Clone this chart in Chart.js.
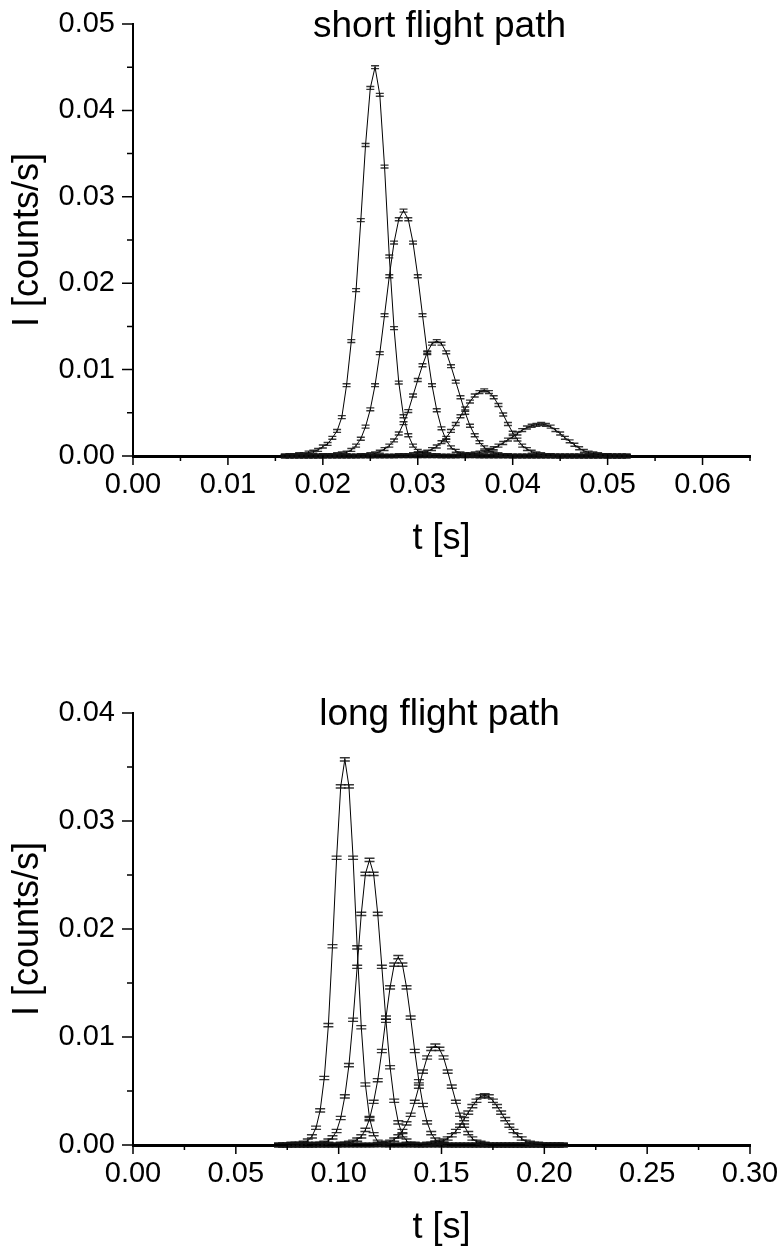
<!DOCTYPE html>
<html>
<head>
<meta charset="utf-8">
<script src="https://cdn.jsdelivr.net/npm/chart.js@4/dist/chart.umd.min.js"></script>
<style>
  html, body { margin: 0; padding: 0; background: #fff; }
  canvas { position: absolute; left: 0; }
</style>
</head>
<body>
<canvas id="shortChart" width="781" height="600" style="top:0"></canvas>
<canvas id="longChart" width="781" height="648" style="top:600px"></canvas>
<script>
// short flight path: time grid [s] and five peaks I [counts/s]
const tShort = [
  0.0160, 0.0165, 0.0170, 0.0175, 0.0180, 0.0185, 0.0190, 0.0195,
  0.0200, 0.0205, 0.0210, 0.0215, 0.0220, 0.0225, 0.0230, 0.0235,
  0.0240, 0.0245, 0.0250, 0.0255, 0.0260, 0.0265, 0.0270, 0.0275,
  0.0280, 0.0285, 0.0290, 0.0295, 0.0300, 0.0305, 0.0310, 0.0315,
  0.0320, 0.0325, 0.0330, 0.0335, 0.0340, 0.0345, 0.0350, 0.0355,
  0.0360, 0.0365, 0.0370, 0.0375, 0.0380, 0.0385, 0.0390, 0.0395,
  0.0400, 0.0405, 0.0410, 0.0415, 0.0420, 0.0425, 0.0430, 0.0435,
  0.0440, 0.0445, 0.0450, 0.0455, 0.0460, 0.0465, 0.0470, 0.0475,
  0.0480, 0.0485, 0.0490, 0.0495, 0.0500, 0.0505, 0.0510, 0.0515,
  0.0520
];
const short1 = [
  0, 0.0001, 0.0001, 0.0002, 0.0002, 0.0004, 0.0005, 0.0007,
  0.0011, 0.0014, 0.0021, 0.0029, 0.0045, 0.0082, 0.0133, 0.0192,
  0.0273, 0.0360, 0.0426, 0.0450, 0.0418, 0.0335, 0.0231, 0.0148,
  0.0085, 0.0046, 0.0024, 0.0012, 0.0006, 0.0003, 0.0002, 0.0001,
  0.0001, 0, 0, 0, 0, 0, 0, 0,
  0, 0, 0, 0, 0, 0, 0, 0,
  0, 0, 0, 0, 0, 0, 0, 0,
  0, 0, 0, 0, 0, 0, 0, 0,
  0, 0, 0, 0, 0, 0, 0, 0,
  0
];
const short2 = [
  0, 0, 0, 0, 0, 0, 0, 0,
  0.0001, 0.0001, 0.0001, 0.0002, 0.0003, 0.0004, 0.0007, 0.0012,
  0.0020, 0.0034, 0.0054, 0.0082, 0.0119, 0.0163, 0.0208, 0.0247,
  0.0274, 0.0284, 0.0274, 0.0247, 0.0208, 0.0163, 0.0119, 0.0082,
  0.0053, 0.0032, 0.0018, 0.0010, 0.0006, 0.0003, 0.0002, 0.0001,
  0.0001, 0, 0, 0, 0, 0, 0, 0,
  0, 0, 0, 0, 0, 0, 0, 0,
  0, 0, 0, 0, 0, 0, 0, 0,
  0, 0, 0, 0, 0, 0, 0, 0,
  0
];
const short3 = [
  0, 0, 0, 0, 0, 0, 0, 0,
  0, 0, 0, 0, 0, 0, 0, 0,
  0.0001, 0.0001, 0.0002, 0.0003, 0.0005, 0.0008, 0.0012, 0.0018,
  0.0026, 0.0038, 0.0052, 0.0070, 0.0088, 0.0105, 0.0120, 0.0130,
  0.0133, 0.0130, 0.0120, 0.0104, 0.0086, 0.0068, 0.0050, 0.0035,
  0.0024, 0.0016, 0.0010, 0.0006, 0.0004, 0.0002, 0.0001, 0.0001,
  0, 0, 0, 0, 0, 0, 0, 0,
  0, 0, 0, 0, 0, 0, 0, 0,
  0, 0, 0, 0, 0, 0, 0, 0,
  0
];
const short4 = [
  0, 0, 0, 0, 0, 0, 0, 0,
  0, 0, 0, 0, 0, 0, 0, 0,
  0, 0, 0, 0, 0, 0, 0, 0,
  0.0001, 0.0001, 0.0001, 0.0002, 0.0003, 0.0004, 0.0005, 0.0008,
  0.0011, 0.0016, 0.0021, 0.0029, 0.0037, 0.0046, 0.0055, 0.0063,
  0.0070, 0.0074, 0.0076, 0.0074, 0.0068, 0.0059, 0.0048, 0.0037,
  0.0027, 0.0019, 0.0012, 0.0008, 0.0005, 0.0003, 0.0002, 0.0001,
  0.0001, 0, 0, 0, 0, 0, 0, 0,
  0, 0, 0, 0, 0, 0, 0, 0,
  0
];
const short5 = [
  0, 0, 0, 0, 0, 0, 0, 0,
  0, 0, 0, 0, 0, 0, 0, 0,
  0, 0, 0, 0, 0, 0, 0, 0,
  0, 0, 0, 0, 0, 0, 0, 0,
  0, 0, 0, 0, 0, 0.0001, 0.0001, 0.0002,
  0.0003, 0.0004, 0.0005, 0.0007, 0.0009, 0.0012, 0.0015, 0.0019,
  0.0022, 0.0026, 0.0030, 0.0033, 0.0035, 0.0036, 0.0037, 0.0036,
  0.0034, 0.0030, 0.0026, 0.0021, 0.0017, 0.0013, 0.0009, 0.0006,
  0.0004, 0.0003, 0.0002, 0.0001, 0.0001, 0, 0, 0,
  0
];

// long flight path
const tLong = [
  0.071, 0.073, 0.075, 0.077, 0.079, 0.081, 0.083, 0.085, 0.087, 0.089,
  0.091, 0.093, 0.095, 0.097, 0.099, 0.101, 0.103, 0.105, 0.107, 0.109,
  0.111, 0.113, 0.115, 0.117, 0.119, 0.121, 0.123, 0.125, 0.127, 0.129,
  0.131, 0.133, 0.135, 0.137, 0.139, 0.141, 0.143, 0.145, 0.147, 0.149,
  0.151, 0.153, 0.155, 0.157, 0.159, 0.161, 0.163, 0.165, 0.167, 0.169,
  0.171, 0.173, 0.175, 0.177, 0.179, 0.181, 0.183, 0.185, 0.187, 0.189,
  0.191, 0.193, 0.195, 0.197, 0.199, 0.201, 0.203, 0.205, 0.207, 0.209
];
const long1 = [
  0, 0, 0, 0.0001, 0.0001, 0.0001, 0.0002, 0.0004, 0.0008, 0.0016,
  0.0032, 0.0062, 0.0111, 0.0184, 0.0266, 0.0332, 0.0357, 0.0332, 0.0266, 0.0183,
  0.0109, 0.0056, 0.0025, 0.0010, 0.0003, 0.0001, 0, 0, 0, 0,
  0, 0, 0, 0, 0, 0, 0, 0, 0, 0,
  0, 0, 0, 0, 0, 0, 0, 0, 0, 0,
  0, 0, 0, 0, 0, 0, 0, 0, 0, 0,
  0, 0, 0, 0, 0, 0, 0, 0, 0, 0
];
const long2 = [
  0, 0, 0, 0, 0, 0, 0, 0, 0, 0.0001,
  0.0001, 0.0002, 0.0004, 0.0007, 0.0013, 0.0025, 0.0045, 0.0074, 0.0116, 0.0165,
  0.0214, 0.0251, 0.0264, 0.0251, 0.0214, 0.0165, 0.0115, 0.0072, 0.0041, 0.0021,
  0.0009, 0.0004, 0.0001, 0.0001, 0, 0, 0, 0, 0, 0,
  0, 0, 0, 0, 0, 0, 0, 0, 0, 0,
  0, 0, 0, 0, 0, 0, 0, 0, 0, 0,
  0, 0, 0, 0, 0, 0, 0, 0, 0, 0
];
const long3 = [
  0, 0, 0, 0, 0, 0, 0, 0, 0, 0,
  0, 0, 0, 0, 0, 0.0001, 0.0001, 0.0002, 0.0003, 0.0005,
  0.0008, 0.0014, 0.0024, 0.0040, 0.0060, 0.0087, 0.0118, 0.0146, 0.0167, 0.0174,
  0.0167, 0.0146, 0.0118, 0.0087, 0.0059, 0.0037, 0.0021, 0.0011, 0.0005, 0.0002,
  0.0001, 0, 0, 0, 0, 0, 0, 0, 0, 0,
  0, 0, 0, 0, 0, 0, 0, 0, 0, 0,
  0, 0, 0, 0, 0, 0, 0, 0, 0, 0
];
const long4 = [
  0, 0, 0, 0, 0, 0, 0, 0, 0, 0,
  0, 0, 0, 0, 0, 0, 0, 0, 0, 0,
  0, 0, 0, 0, 0.0001, 0.0001, 0.0002, 0.0003, 0.0005, 0.0008,
  0.0013, 0.0020, 0.0028, 0.0040, 0.0054, 0.0068, 0.0081, 0.0089, 0.0092, 0.0089,
  0.0081, 0.0068, 0.0054, 0.0040, 0.0028, 0.0018, 0.0011, 0.0006, 0.0003, 0.0002,
  0.0001, 0, 0, 0, 0, 0, 0, 0, 0, 0,
  0, 0, 0, 0, 0, 0, 0, 0, 0, 0
];
const long5 = [
  0, 0, 0, 0, 0, 0, 0, 0, 0, 0,
  0, 0, 0, 0, 0, 0, 0, 0, 0, 0,
  0, 0, 0, 0, 0, 0, 0, 0, 0, 0,
  0, 0, 0, 0, 0, 0, 0.0001, 0.0001, 0.0002, 0.0003,
  0.0004, 0.0006, 0.0009, 0.0013, 0.0018, 0.0024, 0.0030, 0.0036, 0.0041, 0.0045,
  0.0046, 0.0045, 0.0041, 0.0036, 0.0030, 0.0024, 0.0018, 0.0013, 0.0009, 0.0006,
  0.0003, 0.0002, 0.0001, 0.0001, 0, 0, 0, 0, 0, 0
];

Chart.defaults.font.family = '"Liberation Sans", Arial, sans-serif';
Chart.defaults.color = '#000';

const isMajor = (v, step) => Math.abs(v / step - Math.round(v / step)) < 1e-6;

// error bars, minor/major tick marks and the panel title
const panelDeco = {
  id: 'panelDeco',
  afterDatasetsDraw(chart, args, opts) {
    const { ctx, scales: { y } } = chart;
    ctx.save();
    chart.data.datasets.forEach((ds, i) => {
      chart.getDatasetMeta(i).data.forEach((pt, j) => {
        const v = ds.data[j].y;
        const yTop = y.getPixelForValue(v + opts.err);
        const yBot = y.getPixelForValue(v - opts.err);
        ctx.strokeStyle = '#000';
        ctx.lineWidth = 1;
        ctx.beginPath();
        ctx.moveTo(pt.x, yTop);
        ctx.lineTo(pt.x, yBot);
        ctx.stroke();
        ctx.strokeStyle = 'rgba(20,20,20,0.85)';
        ctx.lineWidth = 1.4;
        ctx.beginPath();
        ctx.moveTo(pt.x - opts.cap, yTop);
        ctx.lineTo(pt.x + opts.cap, yTop);
        ctx.moveTo(pt.x - opts.cap, yBot);
        ctx.lineTo(pt.x + opts.cap, yBot);
        ctx.stroke();
      });
    });
    ctx.restore();
  },
  afterDraw(chart, args, opts) {
    const { ctx, chartArea, scales: { x, y } } = chart;
    ctx.save();
    ctx.strokeStyle = '#000';
    ctx.lineWidth = 1.5;
    ctx.beginPath();
    x.ticks.forEach(t => {
      const px = x.getPixelForValue(t.value);
      const len = isMajor(t.value, opts.xMajor) ? 8 : 4;
      ctx.moveTo(px, chartArea.bottom);
      ctx.lineTo(px, chartArea.bottom + len + 1);
    });
    y.ticks.forEach(t => {
      const py = y.getPixelForValue(t.value);
      const len = isMajor(t.value, 0.01) ? 10 : 5;
      ctx.moveTo(chartArea.left, py);
      ctx.lineTo(chartArea.left - len - 1, py);
    });
    ctx.stroke();
    ctx.fillStyle = '#000';
    ctx.font = '37px "Liberation Sans", Arial, sans-serif';
    ctx.textAlign = 'center';
    ctx.textBaseline = 'alphabetic';
    ctx.fillText(opts.title, (chartArea.left + chartArea.right) / 2 - 2, chartArea.top + opts.titleDy);
    ctx.restore();
  }
};

function buildChart(canvasId, times, series, cfg) {
  const datasets = series.map(vals => ({
    data: times.map((t, i) => ({ x: t, y: vals[i] })),
    showLine: true,
    borderColor: '#000',
    borderWidth: 1,
    pointRadius: 0,
    tension: 0
  }));

  return new Chart(document.getElementById(canvasId), {
    type: 'scatter',
    data: { datasets },
    options: {
      responsive: false,
      animation: false,
      devicePixelRatio: 1,
      layout: { padding: { left: 0, right: 31, top: cfg.top, bottom: 0 } },
      plugins: {
        legend: { display: false },
        tooltip: { enabled: false },
        panelDeco: { title: cfg.title, titleDy: cfg.titleDy, err: cfg.err, cap: cfg.cap, xMajor: cfg.xMajor }
      },
      scales: {
        x: {
          type: 'linear',
          min: 0,
          max: cfg.xMax,
          afterFit: s => { s.height = cfg.xHeight; s.paddingLeft = 0; s.paddingRight = 0; },
          ticks: {
            stepSize: cfg.xStep,
            maxTicksLimit: 100,
            autoSkip: false,
            maxRotation: 0,
            padding: 12,
            font: { size: 29 },
            callback: v => isMajor(v, cfg.xMajor) ? v.toFixed(2) : ''
          },
          grid: { drawOnChartArea: false, drawTicks: false },
          border: { color: '#000', width: 3 },
          title: { display: true, text: 't [s]', font: { size: 36, lineHeight: 1 }, padding: { top: 0, bottom: cfg.xTitlePad } }
        },
        y: {
          min: 0,
          max: cfg.yMax,
          afterFit: s => { s.width = 133; s.paddingTop = 0; s.paddingBottom = 0; },
          ticks: {
            stepSize: 0.005,
            maxTicksLimit: 100,
            padding: 18,
            font: { size: 29 },
            callback: v => isMajor(v, 0.01) ? v.toFixed(2) : ''
          },
          grid: { drawOnChartArea: false, drawTicks: false },
          border: { color: '#000', width: 2 },
          title: { display: true, text: 'I [counts/s]', font: { size: 36, lineHeight: 1 }, padding: { top: 10, bottom: 0 } }
        }
      }
    },
    plugins: [panelDeco]
  });
}

buildChart('shortChart', tShort, [short1, short2, short3, short4, short5], {
  title: 'short flight path', titleDy: 13, top: 24, xHeight: 144, xTitlePad: 43,
  xMax: 0.065, xStep: 0.005, xMajor: 0.01, yMax: 0.05, err: 0.00017, cap: 4
});

buildChart('longChart', tLong, [long1, long2, long3, long4, long5], {
  title: 'long flight path', titleDy: 12, top: 113, xHeight: 103, xTitlePad: 2,
  xMax: 0.30, xStep: 0.025, xMajor: 0.05, yMax: 0.04, err: 0.00015, cap: 5
});
</script>
</body>
</html>
